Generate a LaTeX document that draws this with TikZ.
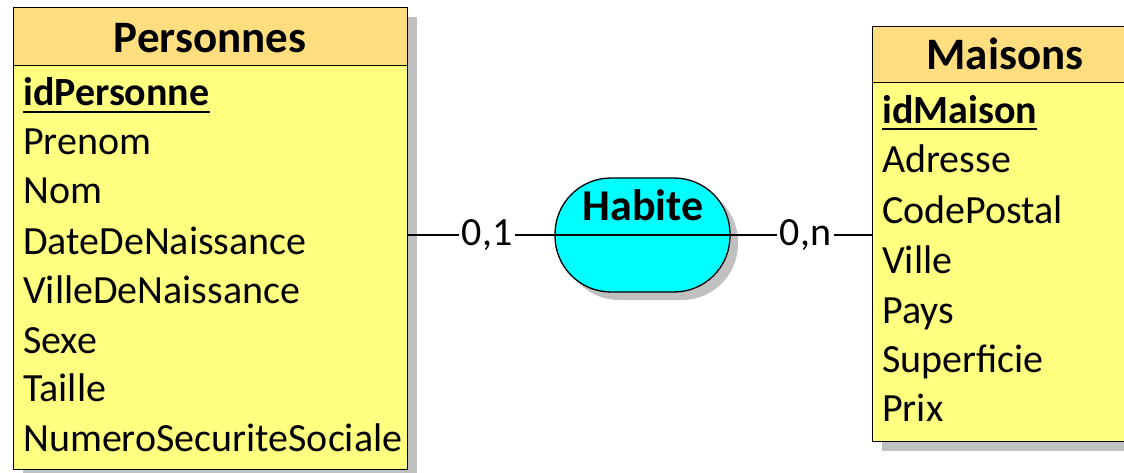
\documentclass[tikz,border=0pt]{standalone}
\usepackage{fontspec}
\setmainfont{Carlito}
\begin{document}
\begin{tikzpicture}[x=1pt,y=-1pt,
  hdrfill/.style={fill={rgb,255:red,255;green,222;blue,128}},
  bodyfill/.style={fill={rgb,255:red,255;green,255;blue,128}},
  shade/.style={fill={rgb,255:red,192;green,192;blue,192}, draw=none},
  box/.style={draw=black, line width=1.3pt, rectangle, inner sep=0pt, anchor=north west},
  title/.style={font=\fontsize{45}{50}\selectfont\bfseries, anchor=base, inner sep=0pt},
  attr/.style={font=\fontsize{40}{46}\selectfont, anchor=base west, inner sep=0pt},
  keyattr/.style={attr, font=\fontsize{40}{46}\selectfont\bfseries},
  card/.style={font=\fontsize{40}{46}\selectfont, fill=white, inner sep=3pt},
  link/.style={draw=black, line width=1.3pt}
]
\useasboundingbox (0,0) rectangle (1124,473);
\clip (0,0) rectangle (1124,473);
\fill[white] (0,0) rectangle (1124,473);

% drop shadows
\fill[shade] (23,17) rectangle (417,479);
\fill[shade] (882,36) rectangle (1148,451);
\path[shade, rounded corners=56pt] (563,186) rectangle (738,300);

% entity Personnes
\node[box, hdrfill, minimum width=394pt, minimum height=58pt] (Ph) at (13,7) {};
\node[box, bodyfill, minimum width=394pt, minimum height=404pt] (Pb) at (13,65) {};
\node[title] (Pt) at (210,53) {Personnes};
\node[keyattr] (p0) at (23,106) {idPersonne};
\draw[line width=1.3pt] (p0.west |- 0,112) -- (p0.east |- 0,112);
\node[attr] (p1) at (23,155) {Prenom};
\node[attr] (p2) at (23,204) {Nom};
\node[attr] (p3) at (23,254) {DateDeNaissance};
\node[attr] (p4) at (23,303) {VilleDeNaissance};
\node[attr] (p5) at (23,353) {Sexe};
\node[attr] (p6) at (23,401) {Taille};
\node[attr] (p7) at (23,451) {NumeroSecuriteSociale};

% entity Maisons
\node[box, hdrfill, minimum width=266pt, minimum height=56pt] (Mh) at (872,26) {};
\node[box, bodyfill, minimum width=266pt, minimum height=359pt] (Mb) at (872,82) {};
\node[title] (Mt) at (1005,70) {Maisons};
\node[keyattr] (m0) at (882,124) {idMaison};
\draw[line width=1.3pt] (m0.west |- 0,129) -- (m0.east |- 0,129);
\node[attr] (m1) at (882,173) {Adresse};
\node[attr] (m2) at (882,223) {CodePostal};
\node[attr] (m3) at (882,273) {Ville};
\node[attr] (m4) at (882,323) {Pays};
\node[attr] (m5) at (882,372) {Superficie};
\node[attr] (m6) at (882,421) {Prix};

% association Habite
\node[draw=black, line width=1.3pt, fill={rgb,255:red,0;green,255;blue,255},
      rounded corners=56pt, minimum width=175pt, minimum height=114pt, inner sep=0pt]
      (H) at (642.5,235) {};
\draw[line width=1.3pt] (H.west) -- (H.east);
\node[title, font=\fontsize{44}{50}\selectfont\bfseries] (Ht) at (643,220) {Habite};

% links with cardinalities
\draw[link] (H.west) -- node[card, pos=0.46] (c1) {0,1} (H.west -| Pb.east);
\draw[link] (H.east) -- node[card, pos=0.53] (c2) {0,n} (H.east -| Mb.west);
\end{tikzpicture}
\end{document}
